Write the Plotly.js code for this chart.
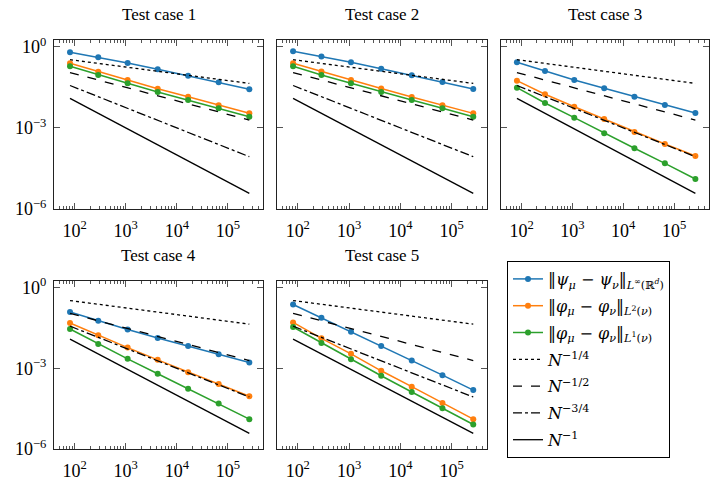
<!DOCTYPE html>
<html>
<head>
<meta charset="utf-8">
<script src="https://cdn.plot.ly/plotly-3.0.1.min.js"></script>
<style>html,body{margin:0;padding:0;background:#fff;}#chart{width:718px;height:480px;}</style>
</head>
<body>
<div id="chart"></div>
<script>
// ---- data ----
const N = [81, 289, 1089, 4225, 16641, 66049, 263169];
const caseTitles = ["Test case 1", "Test case 2", "Test case 3", "Test case 4", "Test case 5"];

const psiInf1 = [0.624, 0.407, 0.251, 0.147, 0.0851, 0.0485, 0.0267];
const phiL2_1 = [0.244, 0.120, 0.059, 0.0282, 0.0142, 0.00684, 0.00346];
const phiL1_1 = [0.189, 0.0904, 0.0446, 0.0212, 0.0107, 0.0053, 0.00259];

const psiInf2 = [0.676, 0.437, 0.266, 0.155, 0.0881, 0.0501, 0.0275];
const phiL2_2 = [0.246, 0.121, 0.0595, 0.0285, 0.0139, 0.0068, 0.00344];
const phiL1_2 = [0.191, 0.0905, 0.0448, 0.0213, 0.0107, 0.0053, 0.0026];

const psiInf3 = [0.266, 0.127, 0.059, 0.0291, 0.0142, 0.00702, 0.00355];
const phiL2_3 = [0.0556, 0.0175, 0.00607, 0.00213, 7.05e-4, 2.54e-4, 9.12e-5];
const phiL1_3 = [0.0306, 0.00832, 0.00238, 6.31e-4, 1.76e-4, 4.9e-5, 1.29e-5];

const psiInf4 = [0.124, 0.059, 0.0281, 0.0135, 0.00684, 0.00334, 0.00165];
const phiL2_4 = [0.0485, 0.0169, 0.00592, 0.00207, 7.23e-4, 2.6e-4, 9.12e-5];
const phiL1_4 = [0.0291, 0.00811, 0.00226, 6.31e-4, 1.76e-4, 4.9e-5, 1.29e-5];

const psiInf5 = [0.237, 0.0762, 0.0231, 0.00684, 0.00195, 5.6e-4, 1.56e-4];
const phiL2_5 = [0.0511, 0.0131, 0.00346, 8.13e-4, 2.08e-4, 5.15e-5, 1.29e-5];
const phiL1_5 = [0.0345, 0.00883, 0.00218, 5.32e-4, 1.32e-4, 3.28e-5, 8.18e-6];

// reference rate lines, values read at the first and last N
const refN = [81, 263169];
const rateQuarter = [0.333, 0.0441];
const rateHalf = [0.111, 0.00195];
const rateThreeQuarter = [0.037, 8.6e-5];
const rateOne = [0.0123, 3.8e-6];

const xTickVals = [1e2, 1e3, 1e4, 1e5];
const xTickText = ["10<sup>2</sup>", "10<sup>3</sup>", "10<sup>4</sup>", "10<sup>5</sup>"];
const yTickVals = [1, 1e-3, 1e-6];
const yTickText = ["10<sup>0</sup>", "10<sup>−3</sup>", "10<sup>−6</sup>"];

const seriesNames = [
  "‖<i>ψ</i><sub><i>μ</i></sub> − <i>ψ</i><sub><i>ν</i></sub>‖<sub><i>L</i><sup>∞</sup>(ℝ<sup><i>d</i></sup>)</sub>",
  "‖<i>φ</i><sub><i>μ</i></sub> − <i>φ</i><sub><i>ν</i></sub>‖<sub><i>L</i><sup>2</sup>(<i>ν</i>)</sub>",
  "‖<i>φ</i><sub><i>μ</i></sub> − <i>φ</i><sub><i>ν</i></sub>‖<sub><i>L</i><sup>1</sup>(<i>ν</i>)</sub>"
];
const rateNames = ["<i>N</i><sup>−1/4</sup>", "<i>N</i><sup>−1/2</sup>", "<i>N</i><sup>−3/4</sup>", "<i>N</i><sup>−1</sup>"];

// ---- styling ----
const colors = ["#1f77b4", "#ff7f0e", "#2ca02c"];
const dashes = ["dot", "dash", "dashdot", "solid"];
const FONT = "'Liberation Serif', 'DejaVu Serif', serif";
const LEGFONT = "'DejaVu Serif', 'Liberation Serif', serif";
const W = 718, H = 480;

const panels = [
  {series: [psiInf1, phiL2_1, phiL1_1], x: [54, 263], y: [40, 209]},
  {series: [psiInf2, phiL2_2, phiL1_2], x: [277, 487], y: [40, 209]},
  {series: [psiInf3, phiL2_3, phiL1_3], x: [501, 709], y: [40, 209]},
  {series: [psiInf4, phiL2_4, phiL1_4], x: [54, 263], y: [281, 449]},
  {series: [psiInf5, phiL2_5, phiL1_5], x: [277, 487], y: [281, 449]}
];
const rates = [rateQuarter, rateHalf, rateThreeQuarter, rateOne];

const minorVals = [];
for (let e = 1; e <= 5; e++) for (let m = 2; m <= 9; m++) minorVals.push(m * Math.pow(10, e));

const traces = [];
const layout = {
  width: W, height: H,
  margin: {l: 0, r: 0, t: 0, b: 0},
  paper_bgcolor: "#fff", plot_bgcolor: "#fff",
  showlegend: true,
  font: {family: FONT, size: 15, color: "#000"},
  legend: {
    x: 507 / W, y: 1 - 261 / H, xanchor: "left", yanchor: "top",
    bordercolor: "#000", borderwidth: 1, bgcolor: "#fff",
    font: {family: LEGFONT, size: 16, color: "#000"},
    tracegroupgap: 3, itemwidth: 30
  },
  annotations: []
};

panels.forEach((p, i) => {
  const k = i + 1;
  const xa = "x" + (k === 1 ? "" : k), ya = "y" + (k === 1 ? "" : k);
  const xname = "xaxis" + (k === 1 ? "" : k), yname = "yaxis" + (k === 1 ? "" : k);
  p.series.forEach((vals, s) => {
    traces.push({
      x: N, y: vals, xaxis: xa, yaxis: ya, type: "scatter", mode: "lines+markers",
      name: seriesNames[s], legendgroup: "s" + s, showlegend: i === 0,
      line: {color: colors[s], width: 1.5}, marker: {color: colors[s], size: 6}
    });
  });
  rates.forEach((vals, r) => {
    traces.push({
      x: refN, y: vals, xaxis: xa, yaxis: ya, type: "scatter", mode: "lines",
      name: rateNames[r], legendgroup: "r" + r, showlegend: i === 0,
      line: {color: "#000", width: 1.3, dash: dashes[r]}
    });
  });
  layout[xname] = {
    type: "log", range: [1.595, 5.688], domain: [p.x[0] / W, p.x[1] / W], anchor: ya,
    showgrid: false, zeroline: false, showline: true, linecolor: "#222", linewidth: 1, mirror: "allticks",
    ticks: "inside", ticklen: 6, tickwidth: 1, tickcolor: "#555",
    tickmode: "array", tickvals: xTickVals, ticktext: xTickText, ticklabelstandoff: 5,
    tickfont: {family: FONT, size: 18, color: "#000"},
    minor: {tickmode: "array", tickvals: minorVals, ticks: "inside", ticklen: 3, tickwidth: 1, tickcolor: "#555", showgrid: false}
  };
  layout[yname] = {
    type: "log", range: [-6, 0.25], domain: [1 - p.y[1] / H, 1 - p.y[0] / H], anchor: xa,
    showgrid: false, zeroline: false, showline: true, linecolor: "#222", linewidth: 1, mirror: "allticks",
    ticks: "inside", ticklen: 6, tickwidth: 1, tickcolor: "#555",
    tickmode: "array", tickvals: yTickVals, ticktext: yTickText,
    showticklabels: (i === 0 || i === 3), ticklabelstandoff: 3,
    tickfont: {family: FONT, size: 18, color: "#000"}
  };
  layout.annotations.push({
    text: caseTitles[i], xref: "paper", yref: "paper",
    x: (p.x[0] + p.x[1]) / 2 / W, y: 1 - (p.y[0] - 26) / H,
    xanchor: "center", yanchor: "middle", showarrow: false,
    font: {family: FONT, size: 17, color: "#000"}
  });
});

Plotly.newPlot("chart", traces, layout, {staticPlot: true});
</script>
</body>
</html>
